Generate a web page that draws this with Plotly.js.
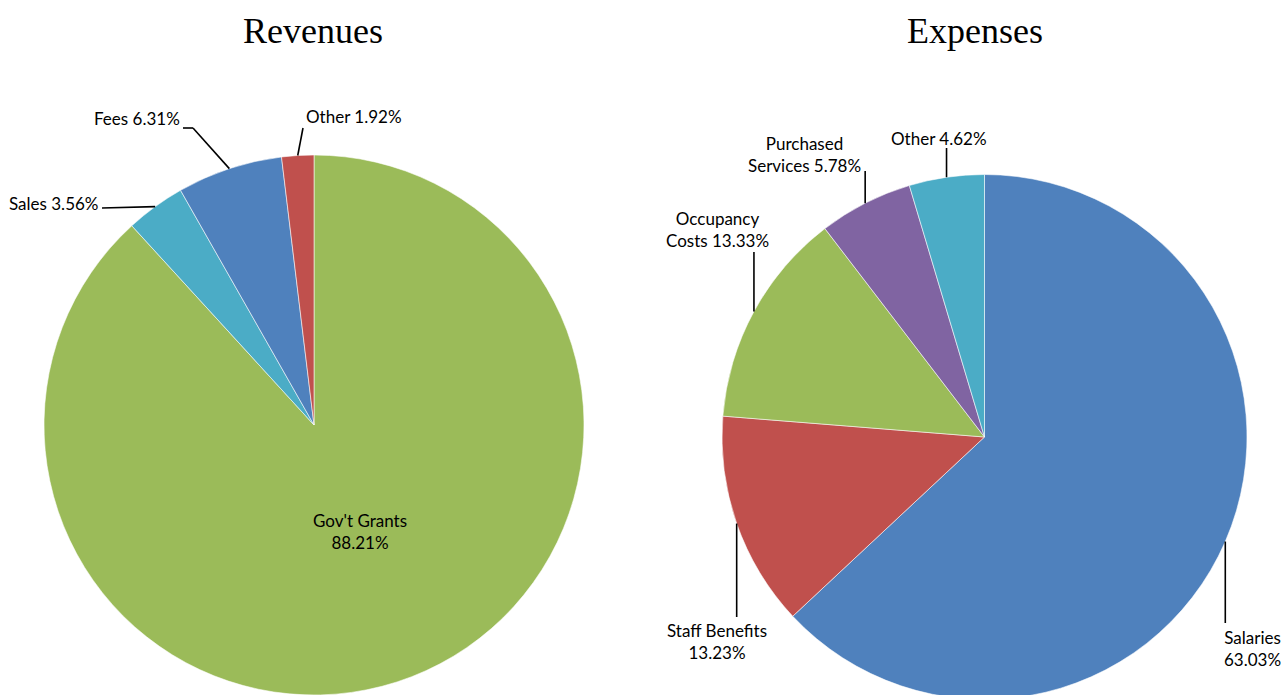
<!DOCTYPE html>
<html>
<head>
<meta charset="utf-8">
<script src="https://cdn.plot.ly/plotly-3.0.1.min.js"></script>
<style>
html,body{margin:0;padding:0;overflow:hidden;background:#fff;}
#chart{width:1287px;height:720px;}
</style>
</head>
<body>
<div id="chart"></div>
<script>
// ---------- DATA ----------
const revCategories = ["Gov't Grants", "Sales", "Fees", "Other"];
const revValues = [88.21, 3.56, 6.31, 1.92];
const revColors = ["#9BBB59", "#4BACC6", "#4F81BD", "#C0504D"];

const expCategories = ["Salaries", "Staff Benefits", "Occupancy Costs", "Purchased Services", "Other"];
const expValues = [63.03, 13.23, 13.33, 5.78, 4.62];
const expColors = ["#4F81BD", "#C0504D", "#9BBB59", "#8064A2", "#4BACC6"];

// label text line breaks (display form of category names)
const revDisplay = ["Gov't Grants<br>", "Sales ", "Fees ", "Other "];
const expDisplay = ["Salaries<br>", "Staff Benefits<br>", "Occupancy<br>Costs ", "Purchased<br>Services ", "Other "];

// ---------- LAYOUT ----------
const W = 1287, H = 720;
const revPie = {cx: 314, cy: 425, r: 270};
const expPie = {cx: 984.5, cy: 437, r: 262.5};

// label centres (px) and leader-line ends (px); 'v' => vertical line from edge to given y
const revLabelPos = [[360, 531], [53, 203], [137, 119], [354, 117]];
const revLeader = [null, {pts: [[102, 208]]}, {pts: [[193, 128], [183, 128]]}, {pts: [[303, 128]]}];
const expLabelPos = [[1252, 648], [717, 641], [717, 230], [804, 154], [939, 138]];
const expLeader = [{v: 623}, {v: 617}, {v: 252}, {v: 171}, {v: 148}];

const px = x => x / W;
const py = y => 1 - y / H;

function edgePoint(pie, values, i) {
  const tot = values.reduce((a, b) => a + b, 0);
  let cum = 0;
  for (let k = 0; k < i; k++) cum += values[k];
  const mid = (cum + values[i] / 2) / tot * 2 * Math.PI; // clockwise from 12 o'clock
  return [pie.cx + pie.r * Math.sin(mid), pie.cy - pie.r * Math.cos(mid)];
}

function pieTrace(cats, vals, cols, pie) {
  return {
    type: 'pie', labels: cats, values: vals, sort: false, direction: 'clockwise', rotation: 0,
    marker: {colors: cols, line: {color: 'rgba(255,255,255,0.7)', width: 0.8}},
    textinfo: 'none', hoverinfo: 'label+percent', showlegend: false,
    domain: {x: [px(pie.cx - pie.r), px(pie.cx + pie.r)], y: [py(pie.cy + pie.r), py(pie.cy - pie.r)]}
  };
}

const annotations = [];
const shapes = [];
const labFont = {family: 'Lato, "Liberation Sans", sans-serif', size: 17, color: '#000'};

function addLabels(cats, vals, disp, pos, leaders, pie) {
  cats.forEach((c, i) => {
    annotations.push({
      xref: 'paper', yref: 'paper', x: px(pos[i][0]), y: py(pos[i][1]),
      xanchor: 'center', yanchor: 'middle', showarrow: false, align: 'center',
      text: disp[i] + vals[i].toFixed(2) + '%', font: labFont
    });
    const L = leaders[i];
    if (!L) return;
    const e = edgePoint(pie, vals, i);
    const pts = [e].concat(L.v !== undefined ? [[e[0], L.v]] : L.pts);
    for (let k = 0; k < pts.length - 1; k++) {
      shapes.push({type: 'line', xref: 'paper', yref: 'paper',
        x0: px(pts[k][0]), y0: py(pts[k][1]), x1: px(pts[k + 1][0]), y1: py(pts[k + 1][1]),
        line: {color: '#000', width: 1.6}});
    }
  });
}
addLabels(revCategories, revValues, revDisplay, revLabelPos, revLeader, revPie);
addLabels(expCategories, expValues, expDisplay, expLabelPos, expLeader, expPie);

const titleFont = {family: '"Liberation Serif", "Times New Roman", serif', size: 36, color: '#000'};
annotations.push({xref: 'paper', yref: 'paper', x: px(313), y: py(31), xanchor: 'center', yanchor: 'middle',
  showarrow: false, text: 'Revenues', font: titleFont});
annotations.push({xref: 'paper', yref: 'paper', x: px(975), y: py(31), xanchor: 'center', yanchor: 'middle',
  showarrow: false, text: 'Expenses', font: titleFont});

const data = [pieTrace(revCategories, revValues, revColors, revPie), pieTrace(expCategories, expValues, expColors, expPie)];
const layout = {
  width: W, height: H, margin: {l: 0, r: 0, t: 0, b: 0},
  paper_bgcolor: '#fff', plot_bgcolor: '#fff', showlegend: false,
  annotations: annotations, shapes: shapes
};
Plotly.newPlot('chart', data, layout, {displayModeBar: false, staticPlot: true});
</script>
</body>
</html>
